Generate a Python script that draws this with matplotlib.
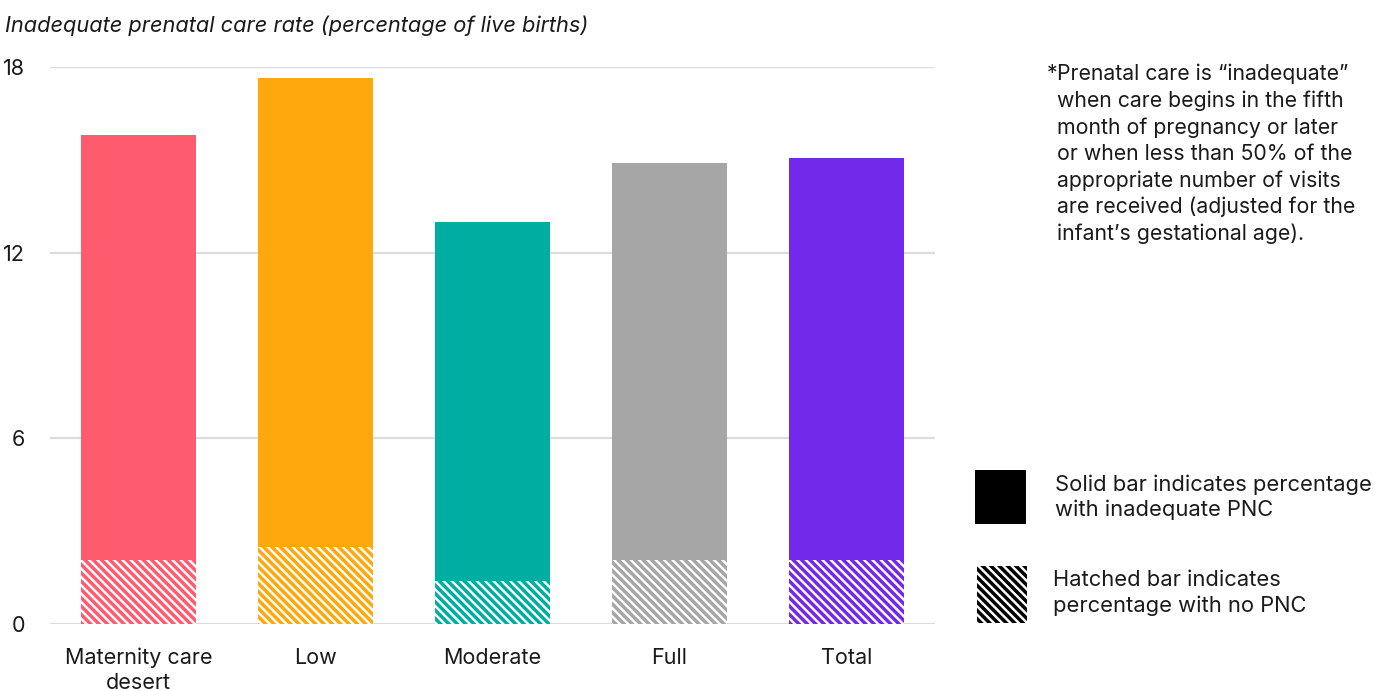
import matplotlib.pyplot as plt
from matplotlib.patches import Rectangle

plt.rcParams["font.family"] = ["Inter", "DejaVu Sans"]
plt.rcParams["hatch.linewidth"] = 2.5

# 孕产护理可及性分组
categories = ["Maternity care\ndesert", "Low", "Moderate", "Full", "Total"]
inadequate_rate = [15.8, 17.65, 13.0, 14.9, 15.05]   # 产前护理不足（总高度）
no_pnc_rate = [2.07, 2.5, 1.4, 2.07, 2.07]            # 无产前护理（斜线部分）
colors = ["#FF5B6E", "#FFA80E", "#00AEA1", "#A6A6A6", "#7329E9"]
y_ticks = [0, 6, 12, 18]

HATCH = "\\" * 4
W, H = 1375, 691
fig = plt.figure(figsize=(W / 100, H / 100), dpi=100)
ax = fig.add_axes([50 / W, 1 - 624 / H, 885 / W, 557 / H])

x = range(len(categories))
solid = [t - h for t, h in zip(inadequate_rate, no_pnc_rate)]
ax.bar(x, solid, bottom=no_pnc_rate, width=0.65, color=colors, zorder=3)
ax.bar(x, no_pnc_rate, width=0.65, facecolor="white", edgecolor=colors,
       hatch=HATCH, linewidth=0, zorder=3)

ax.set_xlim(-0.5, 4.5)
ax.set_ylim(0, 18)
ax.set_yticks(y_ticks)
ax.set_xticks(list(x))
ax.set_xticklabels(categories, linespacing=1.31)
ax.tick_params(axis="both", length=0, labelsize=15.5, colors="#1a1a1a")
ax.tick_params(axis="y", pad=18)
ax.tick_params(axis="x", pad=17)
ax.grid(axis="y", color="#dcdcdc", linewidth=1.6, zorder=0)
for s in ax.spines.values():
    s.set_visible(False)

# 标题
fig.text(5 / W, 1 - 26 / H, "Inadequate prenatal care rate (percentage of live births)",
         fontsize=15.7, style="italic", va="center", ha="left", color="#1a1a1a")

# 注释
note = ("Prenatal care is \u201cinadequate\u201d\n"
        "when care begins in the fifth\n"
        "month of pregnancy or later\n"
        "or when less than 50% of the\n"
        "appropriate number of visits\n"
        "are received (adjusted for the\n"
        "infant\u2019s gestational age).")
fig.text(1057 / W, 1 - 64 / H, note, fontsize=15.3, va="top", ha="left",
         linespacing=1.375, color="#1a1a1a")
fig.text(1057 / W, 1 - 64 / H, "*", fontsize=15.3, va="top", ha="right", color="#1a1a1a")

# 图例
fig.patches.append(Rectangle((975 / W, 1 - 524 / H), 51 / W, 54 / H,
                             transform=fig.transFigure, facecolor="black",
                             linewidth=0))
fig.patches.append(Rectangle((977 / W, 1 - 623 / H), 50 / W, 57 / H,
                             transform=fig.transFigure, facecolor="white",
                             edgecolor="black", hatch=HATCH, linewidth=0))
fig.text(1055 / W, 1 - 497 / H, "Solid bar indicates percentage\nwith inadequate PNC",
         fontsize=15.8, va="center", ha="left", linespacing=1.29, color="#1a1a1a")
fig.text(1053 / W, 1 - 593 / H, "Hatched bar indicates\npercentage with no PNC",
         fontsize=15.8, va="center", ha="left", linespacing=1.29, color="#1a1a1a")

fig.savefig("out.png", dpi=100)
